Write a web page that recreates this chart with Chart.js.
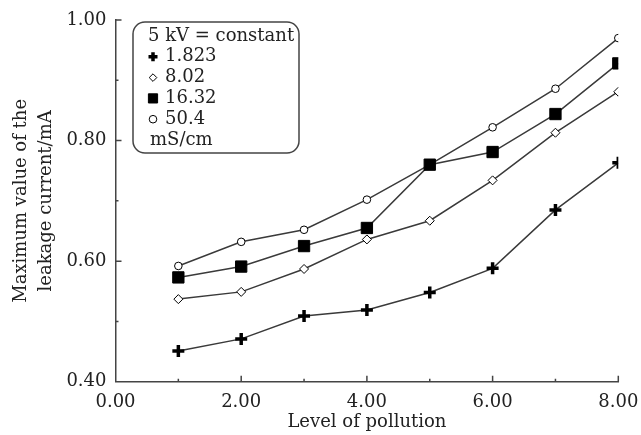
<!DOCTYPE html>
<html>
<head>
<meta charset="utf-8">
<script src="https://cdn.jsdelivr.net/npm/chart.js@4.4.1/dist/chart.umd.min.js"></script>
<style>
  html, body { margin: 0; padding: 0; background: #fff; overflow: hidden; }
  #wrap { width: 641px; height: 435px; overflow: hidden; }
  canvas { display: block; }
</style>
</head>
<body>
<div id="wrap"><canvas id="chart" width="680" height="435"></canvas></div>
<script>
'use strict';

// level of pollution
var levels = [1, 2, 3, 4, 5, 6, 7, 8];

// maximum leakage current (mA), one array per conductivity (mS/cm)
var series1823 = [0.451, 0.471, 0.509, 0.519, 0.548, 0.588, 0.685, 0.763];
var series802  = [0.537, 0.549, 0.587, 0.636, 0.667, 0.734, 0.813, 0.881];
var series1632 = [0.573, 0.591, 0.625, 0.655, 0.760, 0.781, 0.844, 0.928];
var series504  = [0.592, 0.632, 0.652, 0.702, 0.760, 0.822, 0.886, 0.970];

var seriesLabels = ['1.823', '8.02', '16.32', '50.4'];
var legendTitle = '5 kV = constant';
var legendUnit = 'mS/cm';

var xTitle = 'Level of pollution';
var yTitle = ['Maximum value of the', 'leakage current/mA'];

var FONT = '"DejaVu Serif", "Liberation Serif", serif';
var INK = '#222';
var LINE = '#3a3a3a';

function points(values) {
    return levels.map(function(x, i) { return { x: x, y: values[i] }; });
}

function makeSet(label, values, style) {
    return Object.assign({
        label: label,
        data: points(values),
        borderColor: LINE,
        borderWidth: 1.5,
        pointBorderColor: '#000',
        pointBackgroundColor: '#fff',
        tension: 0
    }, style);
}

var datasets = [
    makeSet(seriesLabels[0], series1823, { pointStyle: 'cross', pointRadius: 6, pointBorderWidth: 3.5 }),
    makeSet(seriesLabels[1], series802,  { pointStyle: 'rectRot', pointRadius: 4.5, pointBorderWidth: 1 }),
    makeSet(seriesLabels[2], series1632, { pointStyle: 'rect', pointRadius: 8, pointBorderWidth: 1, pointBackgroundColor: '#000' }),
    makeSet(seriesLabels[3], series504,  { pointStyle: 'circle', pointRadius: 3.8, pointBorderWidth: 1 })
];

// inward tick marks on both axes
var innerTicks = {
    id: 'innerTicks',
    afterDraw: function(chart) {
        var ctx = chart.ctx, xs = chart.scales.x, ys = chart.scales.y;
        ctx.save();
        ctx.strokeStyle = '#444';
        ctx.lineWidth = 1.5;
        ctx.beginPath();
        for (var v = 1; v <= 8; v++) {
            var px = xs.getPixelForValue(v);
            var len = (v % 2 === 0) ? 6 : 3;
            ctx.moveTo(px, ys.bottom);
            ctx.lineTo(px, ys.bottom - len);
        }
        for (var k = 5; k <= 10; k++) {
            var py = ys.getPixelForValue(k / 10);
            var l2 = (k % 2 === 0) ? 6 : 3;
            ctx.moveTo(xs.left, py);
            ctx.lineTo(xs.left + l2, py);
        }
        ctx.stroke();
        ctx.restore();
    }
};

// boxed legend with header and unit line
var boxLegend = {
    id: 'boxLegend',
    afterDraw: function(chart) {
        var ctx = chart.ctx;
        var left = 133, top = 22, w = 166, h = 131, r = 12;
        ctx.save();
        ctx.beginPath();
        ctx.moveTo(left + r, top);
        ctx.arcTo(left + w, top, left + w, top + h, r);
        ctx.arcTo(left + w, top + h, left, top + h, r);
        ctx.arcTo(left, top + h, left, top, r);
        ctx.arcTo(left, top, left + w, top, r);
        ctx.closePath();
        ctx.fillStyle = '#fff';
        ctx.fill();
        ctx.strokeStyle = '#444';
        ctx.lineWidth = 1.5;
        ctx.stroke();

        ctx.font = '18px ' + FONT;
        ctx.fillStyle = INK;
        ctx.textBaseline = 'middle';
        ctx.textAlign = 'left';
        var lineY = 36, step = 20.8;
        ctx.fillText(legendTitle, 148, lineY);
        chart.data.datasets.forEach(function(ds, i) {
            var y = lineY + step * (i + 1);
            var opts = {
                pointStyle: ds.pointStyle,
                radius: ds.pointStyle === 'rect' ? 6.5 : (ds.pointStyle === 'cross' ? 4.5 : 3.8),
                rotation: 0,
                borderWidth: ds.pointBorderWidth
            };
            ctx.strokeStyle = ds.pointBorderColor;
            ctx.fillStyle = ds.pointBackgroundColor;
            ctx.lineWidth = ds.pointBorderWidth;
            Chart.helpers.drawPoint(ctx, opts, 153, y);
            ctx.fillStyle = INK;
            ctx.fillText(ds.label, 165, y);
        });
        ctx.fillText(legendUnit, 150, lineY + step * 5);
        ctx.restore();
    }
};

new Chart(document.getElementById('chart'), {
    type: 'line',
    data: { datasets: datasets },
    options: {
        responsive: false,
        animation: false,
        layout: { padding: { left: 0, top: 20, right: 61.7, bottom: 0 } },
        plugins: {
            legend: { display: false },
            tooltip: { enabled: false }
        },
        scales: {
            x: {
                type: 'linear',
                min: 0,
                max: 8,
                afterFit: function(scale) { scale.height = 53.3; },
                grid: { display: true, drawOnChartArea: false, drawTicks: false },
                border: { display: true, color: '#444', width: 1.5 },
                ticks: {
                    stepSize: 1,
                    padding: 10,
                    maxRotation: 0,
                    autoSkip: false,
                    color: INK,
                    font: { family: FONT, size: 18 },
                    callback: function(v) { return v % 2 === 0 ? v.toFixed(2) : ''; }
                },
                title: {
                    display: true,
                    text: xTitle,
                    color: INK,
                    font: { family: FONT, size: 18 },
                    padding: { top: 0, bottom: 2 }
                }
            },
            y: {
                min: 0.4,
                max: 1.0,
                afterFit: function(scale) { scale.width = 115.5; },
                grid: { display: true, drawOnChartArea: false, drawTicks: false },
                border: { display: true, color: '#444', width: 1.5 },
                ticks: {
                    stepSize: 0.1,
                    padding: 9,
                    autoSkip: false,
                    color: INK,
                    font: { family: FONT, size: 18 },
                    callback: function(v) {
                        return Math.round(v * 10) % 2 === 0 ? v.toFixed(2) : '';
                    }
                },
                title: {
                    display: true,
                    text: yTitle,
                    color: INK,
                    font: { family: FONT, size: 18, lineHeight: 1.4 },
                    padding: { top: 9, bottom: 0 }
                }
            }
        }
    },
    plugins: [innerTicks, boxLegend]
});
</script>
</body>
</html>
